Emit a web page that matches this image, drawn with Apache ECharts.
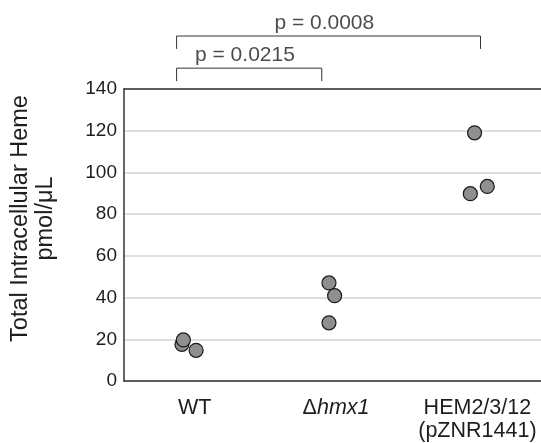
<!DOCTYPE html>
<html><head><meta charset="utf-8">
<script src="https://cdn.jsdelivr.net/npm/echarts@6/dist/echarts.min.js"></script>
<style>html,body{margin:0;padding:0;background:#fff}#c{width:541px;height:443px}</style>
</head><body><div id="c"></div>
<script>
// ---- data ----
const categories = ['WT', 'Δhmx1', 'HEM2/3/12 (pZNR1441)'];
const categoryPos = [1, 2, 3];
const wtValues = [17.6, 19.7, 14.7];
const hmx1Values = [47.0, 40.9, 27.9];
const hemValues = [89.8, 119.0, 93.3];
const wtJitter = [-0.09, -0.08, 0.01];
const hmx1Jitter = [-0.05, -0.01, -0.05];
const hemJitter = [-0.05, -0.02, 0.07];
const yTicks = [0, 20, 40, 60, 80, 100, 120, 140];
// significance brackets: [left x, right x], [leg bottom, bar top], label
const bracketA = { x: [0.872, 1.899], y: [143.8, 150.0], text: 'p = 0.0215' };
const bracketB = { x: [0.872, 3.022], y: [159.2, 165.4], text: 'p = 0.0008' };

// ---- build ----
const pts = [];
[wtValues, hmx1Values, hemValues].forEach((vals, ci) => {
  const jit = [wtJitter, hmx1Jitter, hemJitter][ci];
  vals.forEach((v, i) => pts.push([categoryPos[ci] + jit[i], v]));
});
function bracketLine(b) {
  return [[b.x[0], b.y[0]], [b.x[0], b.y[1]], [b.x[1], b.y[1]], [b.x[1], b.y[0]]];
}
function bracketLabel(b) {
  return [(b.x[0] + b.x[1]) / 2 - 0.03, b.y[1]];
}
const textColor = '#1e1e1e';
const font = 'Liberation Sans, Arial, sans-serif';
const catFont = 21.5;
const chart = echarts.init(document.getElementById('c'), null, { renderer: 'canvas' });
const xCommon = { type: 'value', min: 0.5, max: 3.45 };
chart.setOption({
  animation: false,
  textStyle: { fontFamily: font },
  grid: { left: 113, top: 89, bottom: 62, right: 0, containLabel: false },
  xAxis: [
    Object.assign({}, xCommon, {
      position: 'bottom',
      axisLine: { show: true, lineStyle: { color: '#333', width: 1.5 } },
      axisTick: { show: false },
      splitLine: { show: false },
      axisLabel: {
        customValues: categoryPos,
        margin: 16,
        color: textColor,
        fontSize: catFont,
        lineHeight: 23,
        fontFamily: font,
        formatter: v => {
          const i = categoryPos.indexOf(Math.round(v));
          if (i === 1) return '{n|Δ}{i|hmx1}';
          if (i === 2) return 'HEM2/3/12\n(pZNR1441)';
          return categories[i];
        },
        rich: {
          n: { fontSize: catFont, color: textColor, fontFamily: font, lineHeight: 23 },
          i: { fontSize: catFont, color: textColor, fontStyle: 'italic', fontFamily: font, lineHeight: 23 }
        }
      }
    }),
    Object.assign({}, xCommon, {
      position: 'top',
      axisLine: { show: true, lineStyle: { color: '#333', width: 1.5 } },
      axisTick: { show: false },
      axisLabel: { show: false },
      splitLine: { show: false }
    })
  ],
  yAxis: {
    type: 'value', min: 0, max: 140, interval: 20,
    name: 'Total Intracellular Heme\npmol/μL',
    nameLocation: 'middle', nameRotate: 90, nameGap: 66,
    nameTextStyle: { fontSize: 23.5, color: textColor, lineHeight: 25, fontFamily: font,
      padding: [0, 0, 0, 33] },
    axisLine: { show: true, lineStyle: { color: '#333', width: 1.5 } },
    axisTick: { show: false },
    splitLine: { show: true, lineStyle: { color: '#d3d3d3', width: 1.5 } },
    axisLabel: { color: textColor, fontSize: 19, margin: 7, fontFamily: font,
      formatter: v => yTicks.includes(v) ? String(v) : '' }
  },
  series: [
    {
      type: 'line', data: bracketLine(bracketA), clip: false, symbol: 'none',
      lineStyle: { color: '#333', width: 1 }, silent: true
    },
    {
      type: 'line', data: bracketLine(bracketB), clip: false, symbol: 'none',
      lineStyle: { color: '#333', width: 1 }, silent: true
    },
    {
      type: 'scatter', clip: false, symbolSize: 1,
      itemStyle: { color: 'rgba(0,0,0,0)' },
      data: [bracketLabel(bracketA), bracketLabel(bracketB)],
      label: {
        show: true, position: 'top', distance: 2, color: textColor, fontSize: 21, fontFamily: font,
        formatter: p => [bracketA.text, bracketB.text][p.dataIndex]
      },
      silent: true
    },
    {
      type: 'scatter', data: pts, symbolSize: 14,
      itemStyle: { color: '#8f8f8f', borderColor: '#1a1a1a', borderWidth: 1.2, opacity: 1 }
    }
  ]
});
</script></body></html>
